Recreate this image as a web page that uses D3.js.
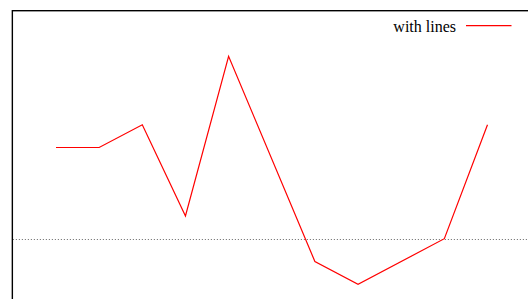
<!DOCTYPE html>
<html>
<head>
<meta charset="utf-8">
<script src="https://cdn.jsdelivr.net/npm/d3@7"></script>
<style>
    html, body { margin: 0; padding: 0; background: #fff; }
    svg { display: block; }
</style>
</head>
<body>
<script>
// data
var xValues = [1, 2, 3, 4, 5, 7, 8, 10, 11];
var yValues = [4, 4, 5, 1, 8, -1, -2, 0, 5];
var seriesTitle = "with lines";

var width = 528;
var height = 299;

/**
 * Build svg, scales and draw the plot
 */
var ChartService = function () {
    var _svg = null;
    var _x = null;
    var _y = null;

    this.init = function () {
        _svg = d3.select("body").append("svg")
            .attr("width", width)
            .attr("height", height);

        // plot area runs past the right and bottom of the window
        _x = d3.scaleLinear().domain([0, 12]).range([12.85, 530.65]);
        _y = d3.scaleLinear().domain([-3, 10]).range([307.1, 10.7]);
    }

    this.drawZeroAxis = function () {
        _svg.append("line")
            .attr("x1", _x(0)).attr("x2", width)
            .attr("y1", Math.round(_y(0)) + 0.5).attr("y2", Math.round(_y(0)) + 0.5)
            .attr("stroke", "#666")
            .attr("stroke-width", 1)
            .attr("stroke-dasharray", "1,2");
    }

    this.drawSeries = function () {
        var pts = xValues.map(function (d, i) { return [d, yValues[i]]; });
        var line = d3.line()
            .x(function (d) { return _x(d[0]); })
            .y(function (d) { return _y(d[1]); });
        _svg.append("path")
            .attr("d", line(pts))
            .attr("fill", "none")
            .attr("stroke", "#ff0000")
            .attr("stroke-width", 1.2)
            .attr("stroke-linejoin", "miter");
    }

    this.drawBorder = function () {
        _svg.append("rect")
            .attr("x", _x(0) - 0.5)
            .attr("y", _y(10))
            .attr("width", _x(12) - _x(0))
            .attr("height", _y(-3) - _y(10))
            .attr("fill", "none")
            .attr("stroke", "#000")
            .attr("stroke-width", 1.4);
    }

    this.drawKey = function () {
        var g = _svg.append("g");
        g.append("text")
            .attr("x", 456)
            .attr("y", 32)
            .attr("text-anchor", "end")
            .attr("font-family", "'Liberation Serif', 'Times New Roman', serif")
            .attr("font-size", 16)
            .attr("fill", "#000")
            .text(seriesTitle);
        g.append("line")
            .attr("x1", 466).attr("x2", 511.5)
            .attr("y1", 25.7).attr("y2", 25.7)
            .attr("stroke", "#ff0000")
            .attr("stroke-width", 1.2);
    }
}

var chart = new ChartService();
chart.init();
chart.drawZeroAxis();
chart.drawSeries();
chart.drawBorder();
chart.drawKey();
</script>
</body>
</html>
